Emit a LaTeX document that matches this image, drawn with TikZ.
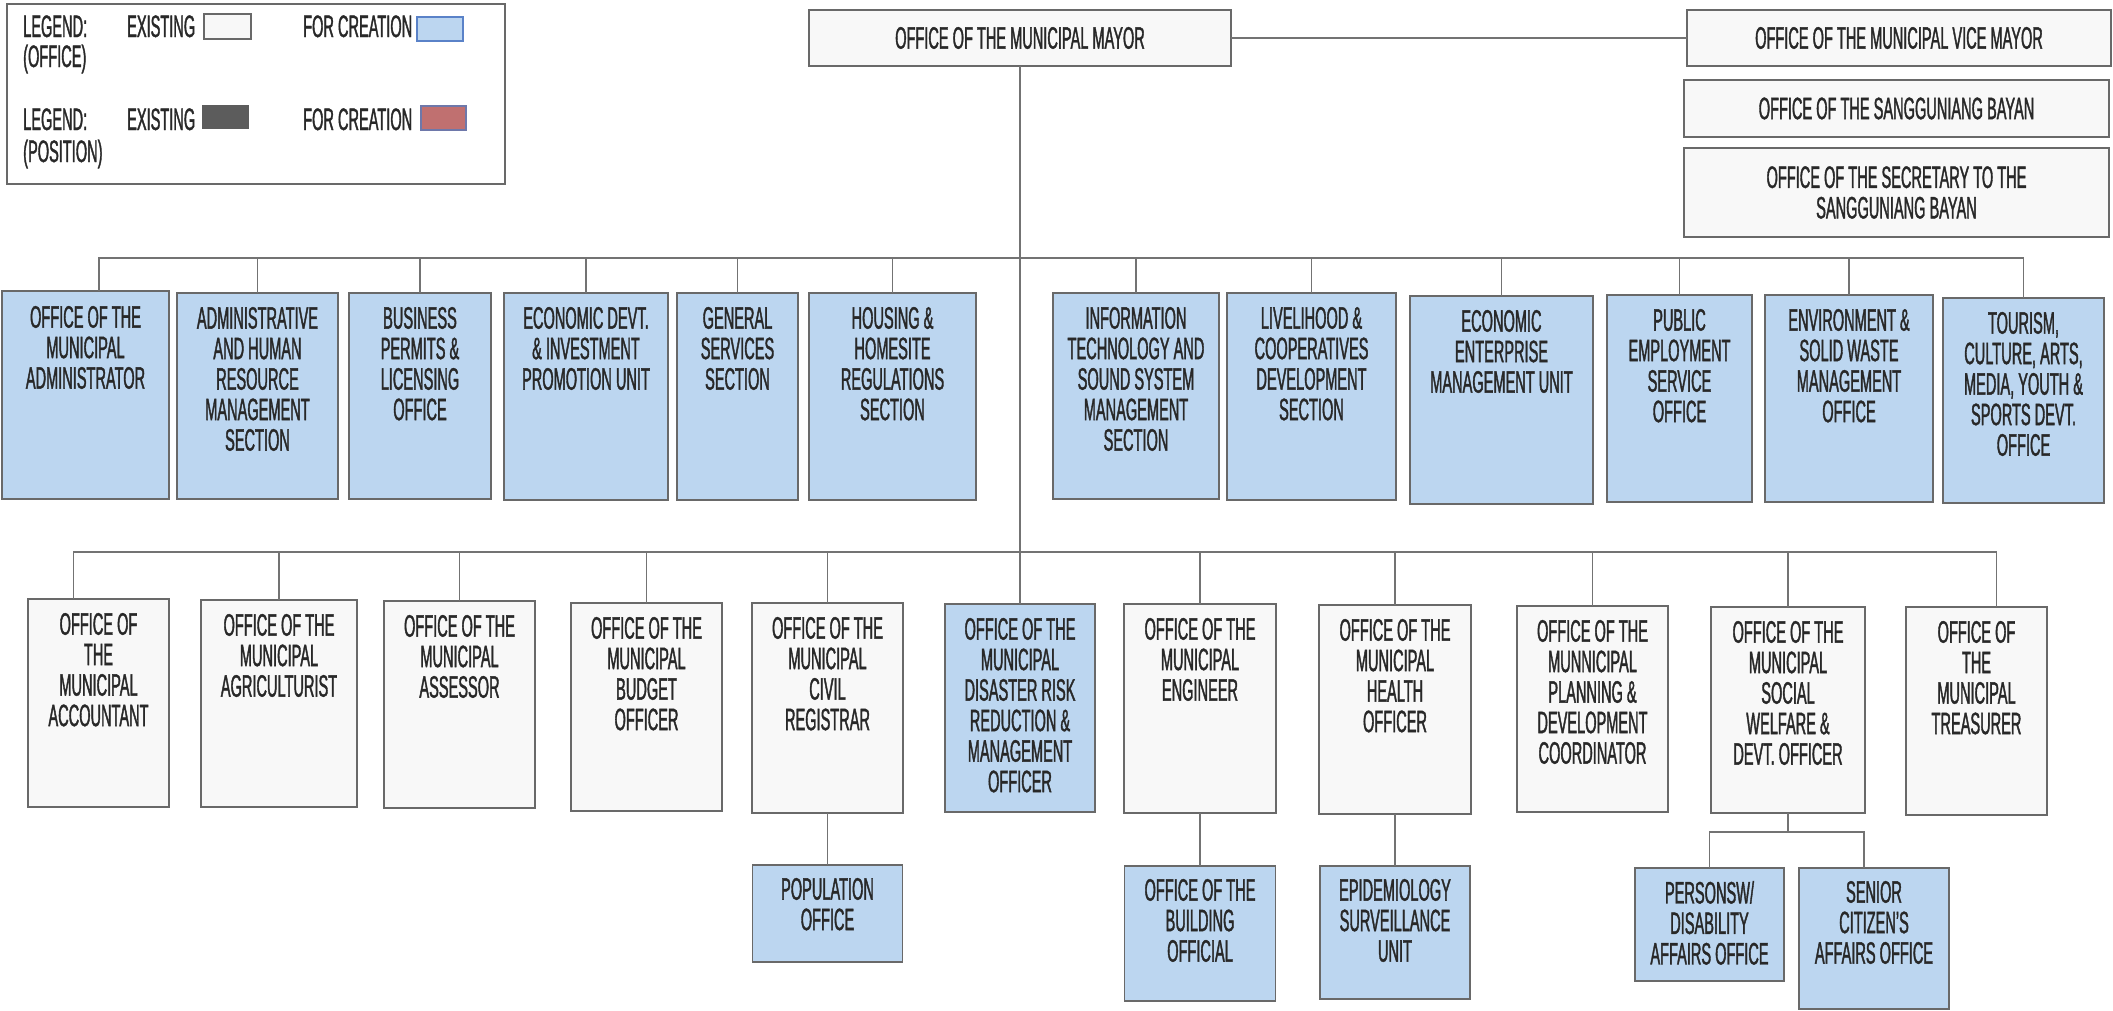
\documentclass[tikz,border=0pt]{standalone}
\usepackage{fontspec}
\setmainfont{Liberation Sans}[FakeStretch=0.47, FakeBold=1.2]
\usepackage{tikz}
\usetikzlibrary{positioning}

\definecolor{txtgray}{RGB}{40,40,40}
\definecolor{boxgray}{RGB}{105,105,105}
\definecolor{linegray}{RGB}{115,115,115}
\definecolor{oldwhite}{RGB}{248,248,248}
\definecolor{newblue}{RGB}{188,214,240}
\definecolor{posgray}{RGB}{92,92,92}
\definecolor{posred}{RGB}{192,112,112}

% box text: width, height, top padding, lines
\newcommand{\boxtext}[4]{\parbox[t][#2pt][t]{#1pt}{\centering\vspace*{#3pt}#4}}

\begin{document}
\begin{tikzpicture}[%
	x=1pt, y=-1pt,
	font=\fontsize{31}{30.5}\selectfont,
	base/.style={draw=boxgray, line width=1.5pt, inner sep=0pt, outer sep=0pt,
		text=txtgray},
	existing/.style={base, fill=oldwhite, anchor=north},
	creation/.style={base, fill=newblue, anchor=north},
	council/.style={base, fill=oldwhite, align=center},
	link/.style={draw=linegray, line width=1.5pt},
	legendtext/.style={anchor=base west, inner sep=0pt, text=txtgray}%
	]
	\useasboundingbox (0,0) rectangle (2113,1010);
	%
	% Legend
	%
	\draw[boxgray, line width=1.5pt] (7,4) rectangle (505,184);
	\node[legendtext] (LEGA) at (23,37) {LEGEND:};
	\node[legendtext] (LEGB) at (23,67) {(OFFICE)};
	\node[legendtext] (EXA) at (127,37) {EXISTING};
	\node[legendtext] (NEWA) at (303,37) {FOR CREATION};
	\node[legendtext] (LEGC) at (23,130) {LEGEND:};
	\node[legendtext] (LEGD) at (23,162) {(POSITION)};
	\node[legendtext] (EXB) at (127,130) {EXISTING};
	\node[legendtext] (NEWB) at (303,130) {FOR CREATION};
	\draw[boxgray, line width=1.2pt, fill=oldwhite] (204,14) rectangle (251,39);
	\draw[draw={rgb,255:red,90;green,130;blue,200}, line width=1.2pt, fill=newblue] (417,17) rectangle (463,41);
	\draw[posgray, line width=1.2pt, fill=posgray] (203,106) rectangle (248,128);
	\draw[draw={rgb,255:red,110;green,120;blue,170}, line width=1.2pt, fill=posred] (421,106) rectangle (466,130);
	%
	% Nodes
	%
	\node[council, minimum width=422pt, minimum height=56pt] (MAYOR) at (1020,38) {OFFICE OF THE MUNICIPAL MAYOR};
	\node[council, minimum width=424pt, minimum height=56pt] (VICE) at (1899,38) {OFFICE OF THE MUNICIPAL VICE MAYOR};
	\node[council, minimum width=425pt, minimum height=57pt] (SB) at (1896.5,108.5) {OFFICE OF THE SANGGUNIANG BAYAN};
	\node[council, minimum width=425pt, minimum height=89pt] (SEC) at (1896.5,192.5) {OFFICE OF THE SECRETARY TO THE\\ SANGGUNIANG BAYAN};
	% first row
	\node[creation] (ADMIN) at (85.5,291) {\boxtext{167}{208}{15}{OFFICE OF THE\\ MUNICIPAL\\ ADMINISTRATOR}};
	\node[creation] (AHRMS) at (257.5,293) {\boxtext{161}{206}{14}{ADMINISTRATIVE\\ AND HUMAN\\ RESOURCE\\ MANAGEMENT\\ SECTION}};
	\node[creation] (BPLO) at (420,293) {\boxtext{142}{206}{14}{BUSINESS\\ PERMITS \&\\ LICENSING\\ OFFICE}};
	\node[creation] (EDIPU) at (586,293) {\boxtext{164}{207}{14}{ECONOMIC DEVT.\\ \& INVESTMENT\\ PROMOTION UNIT}};
	\node[creation] (GSS) at (737.5,293) {\boxtext{121}{207}{14}{GENERAL\\ SERVICES\\ SECTION}};
	\node[creation] (HHRS) at (892.5,293) {\boxtext{167}{207}{14}{HOUSING \&\\ HOMESITE\\ REGULATIONS\\ SECTION}};
	\node[creation] (ITSSM) at (1136,293) {\boxtext{166}{206}{14}{INFORMATION\\ TECHNOLOGY AND\\ SOUND SYSTEM\\ MANAGEMENT\\ SECTION}};
	\node[creation] (LCDS) at (1311.5,293) {\boxtext{169}{207}{14}{LIVELIHOOD \&\\ COOPERATIVES\\ DEVELOPMENT\\ SECTION}};
	\node[creation] (EEMU) at (1501.5,296) {\boxtext{183}{208}{14}{ECONOMIC\\ ENTERPRISE\\ MANAGEMENT UNIT}};
	\node[creation] (PESO) at (1679.5,295) {\boxtext{145}{207}{14}{PUBLIC\\ EMPLOYMENT\\ SERVICE\\ OFFICE}};
	\node[creation] (ESWMO) at (1849,295) {\boxtext{168}{207}{14}{ENVIRONMENT \&\\ SOLID WASTE\\ MANAGEMENT\\ OFFICE}};
	\node[creation] (TOUR) at (2023.5,298) {\boxtext{161}{205}{14}{TOURISM,\\ CULTURE, ARTS,\\ MEDIA, YOUTH \&\\ SPORTS DEVT.\\ OFFICE}};
	% second row
	\node[existing] (ACCT) at (98.5,599) {\boxtext{141}{208}{14}{OFFICE OF\\ THE\\ MUNICIPAL\\ ACCOUNTANT}};
	\node[existing] (AGRI) at (279,600) {\boxtext{156}{207}{14}{OFFICE OF THE\\ MUNICIPAL\\ AGRICULTURIST}};
	\node[existing] (ASSR) at (459.5,601) {\boxtext{151}{207}{14}{OFFICE OF THE\\ MUNICIPAL\\ ASSESSOR}};
	\node[existing] (MBO) at (646.5,603) {\boxtext{151}{208}{14}{OFFICE OF THE\\ MUNICIPAL\\ BUDGET\\ OFFICER}};
	\node[existing] (MCR) at (827.5,603) {\boxtext{151}{210}{14}{OFFICE OF THE\\ MUNICIPAL\\ CIVIL\\ REGISTRAR}};
	\node[creation] (DRRM) at (1020,604) {\boxtext{150}{208}{14}{OFFICE OF THE\\ MUNICIPAL\\ DISASTER RISK\\ REDUCTION \&\\ MANAGEMENT\\ OFFICER}};
	\node[existing] (ENGR) at (1200,604) {\boxtext{152}{209}{14}{OFFICE OF THE\\ MUNICIPAL\\ ENGINEER}};
	\node[existing] (MHO) at (1395,605) {\boxtext{152}{209}{14}{OFFICE OF THE\\ MUNICIPAL\\ HEALTH\\ OFFICER}};
	\node[existing] (MPDC) at (1592.5,606) {\boxtext{151}{206}{14}{OFFICE OF THE\\ MUNNICIPAL\\ PLANNING \&\\ DEVELOPMENT\\ COORDINATOR}};
	\node[existing] (MSWDO) at (1788,607) {\boxtext{154}{206}{14}{OFFICE OF THE\\ MUNICIPAL\\ SOCIAL\\ WELFARE \&\\ DEVT. OFFICER}};
	\node[existing] (MTR) at (1976.5,607) {\boxtext{141}{208}{14}{OFFICE OF\\ THE\\ MUNICIPAL\\ TREASURER}};
	% third row
	\node[creation] (POP) at (827.5,865) {\boxtext{150}{97}{13}{POPULATION\\ OFFICE}};
	\node[creation] (OBO) at (1200,866) {\boxtext{151}{135}{13}{OFFICE OF THE\\ BUILDING\\ OFFICIAL}};
	\node[creation] (ESU) at (1395,866) {\boxtext{150}{133}{13}{EPIDEMIOLOGY\\ SURVEILLANCE\\ UNIT}};
	\node[creation] (PWD) at (1709.5,868) {\boxtext{149}{113}{13}{PERSONSW/\\ DISABILITY\\ AFFAIRS OFFICE}};
	\node[creation] (OSCA) at (1874,868) {\boxtext{150}{141}{13}{SENIOR\\ CITIZEN'S\\ AFFAIRS OFFICE}};
	%
	% Connectors
	%
	\coordinate (BUSA) at (0,258);
	\coordinate (BUSB) at (0,552);
	\draw[link] (MAYOR.east) -- (VICE.west);
	\draw[link] (MAYOR.south) -- (DRRM.north);
	\draw[link] ([xshift=13.5pt]ADMIN.north) -- ([xshift=13.5pt]ADMIN.north |- BUSA) -- (TOUR.north |- BUSA);
	\foreach \n in {AHRMS,BPLO,EDIPU,GSS,HHRS,ITSSM,LCDS,EEMU,PESO,ESWMO,TOUR}
		\draw[link] (\n.north) -- (\n.north |- BUSA);
	\draw[link] ([xshift=-25pt]ACCT.north) -- ([xshift=-25pt]ACCT.north |- BUSB) -- ([xshift=20pt]MTR.north |- BUSB) -- ([xshift=20pt]MTR.north);
	\foreach \n in {AGRI,ASSR,MBO,MCR,ENGR,MHO,MPDC,MSWDO}
		\draw[link] (\n.north) -- (\n.north |- BUSB);
	\draw[link] (MCR.south) -- (POP.north);
	\draw[link] (ENGR.south) -- (OBO.north);
	\draw[link] (MHO.south) -- (ESU.north);
	\draw[link] (MSWDO.south) -- ++(0,19) coordinate (FORK);
	\draw[link] (PWD.north) |- (FORK) -| ([xshift=-10pt]OSCA.north);
\end{tikzpicture}
\end{document}
